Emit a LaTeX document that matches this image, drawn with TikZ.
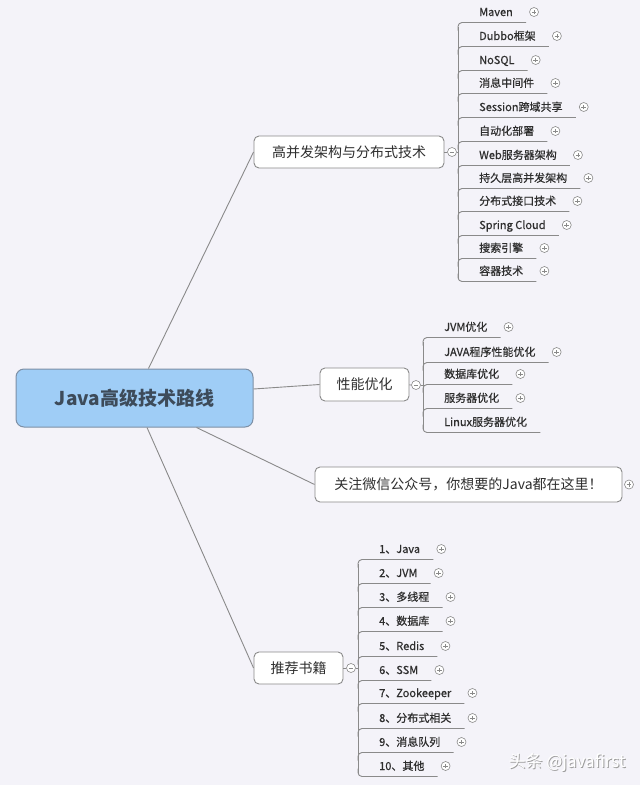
\documentclass[tikz,border=0pt]{standalone}
\usepackage{fontspec}
\newfontfamily\cjk{Noto Sans CJK SC}
\newfontfamily\cjkm{Noto Sans CJK SC}[FakeBold=0.6]
\usetikzlibrary{calc}
\definecolor{bg}{HTML}{F4F3F9}
\definecolor{ln}{HTML}{8A8A8A}
\definecolor{rootfill}{HTML}{9FCDF6}
\definecolor{rootdraw}{HTML}{7D8FA5}
\definecolor{roottext}{HTML}{3D4B5A}
\definecolor{txt}{HTML}{2E2E2E}
\newcommand\mmleaf[4]{%
  \node[item] (#1) at ({#2+21},{#3}) {#4};
  \coordinate (#1-u) at ([xshift=13pt,yshift=-10.5pt]#1.east);
  \node[plus] (#1-p) at ([xshift=21pt]#1.east) {};}
\newcommand\mmleafnp[4]{%
  \node[item] (#1) at ({#2+21},{#3}) {#4};
  \coordinate (#1-u) at ([xshift=13pt,yshift=-10.5pt]#1.east);}
\begin{document}
\begin{tikzpicture}[x=1pt,y=-1pt,
  conn/.style={draw=ln, line width=0.9pt},
  box/.style={draw=ln, line width=0.9pt, fill=white, rounded corners=5pt,
    font=\cjk\fontsize{14}{16}\selectfont, text=txt, inner sep=0},
  item/.style={anchor=west, inner sep=0, text height=9.5pt, text depth=1.5pt,
    font=\cjkm\fontsize{11}{13}\selectfont, text=txt},
  plus/.style={circle, draw=ln, fill=white, line width=0.6pt, minimum size=9pt, inner sep=0,
    path picture={
      \draw[ln,line width=0.6pt] ([xshift=-2.3pt]path picture bounding box.center) -- ([xshift=2.3pt]path picture bounding box.center);
      \draw[ln,line width=0.6pt] ([yshift=-2.3pt]path picture bounding box.center) -- ([yshift=2.3pt]path picture bounding box.center);}},
  minus/.style={circle, draw=ln, fill=white, line width=0.6pt, minimum size=9pt, inner sep=0,
    path picture={
      \draw[ln,line width=0.6pt] ([xshift=-2.3pt]path picture bounding box.center) -- ([xshift=2.3pt]path picture bounding box.center);}}
]
\useasboundingbox (0,0) rectangle (640,785);
\fill[bg] (0,0) rectangle (640,785);

% root
\node[draw=rootdraw, fill=rootfill, rounded corners=8pt, line width=1pt,
  minimum width=237pt, minimum height=58pt, inner sep=0,
  font=\cjk\bfseries\fontsize{19}{22}\selectfont, text=roottext] (root) at (134.5,398) {Java高级技术路线};

% branches
\node[box, minimum width=190pt, minimum height=32pt] (b1) at (349,152) {高并发架构与分布式技术};
\node[box, minimum width=89pt, minimum height=33pt] (b2) at (364.5,384.5) {性能优化};
\node[box, minimum width=307pt, minimum height=35pt] (b3) at (468.5,484.5) {关注微信公众号，你想要的Java都在这里！};
\node[box, minimum width=89pt, minimum height=32pt] (b4) at (298.5,668) {推荐书籍};

\node[minus] (b1c) at (452,152) {};
\node[minus] (b2c) at (416,385) {};
\node[minus] (b4c) at (351,668) {};
\node[plus] (b3p) at (629,484.5) {};

\coordinate (t1) at (458,152);
\coordinate (t2) at (423,385);
\coordinate (t4) at (358,668);

% root connectors
\draw[conn] ([xshift=14pt]root.north) -- (b1.west);
\draw[conn] ([yshift=9pt]root.east) -- (b2.west);
\draw[conn] ([xshift=62pt]root.south) -- (b3.west);
\draw[conn] ([xshift=12.5pt]root.south) -- (b4.west);

\draw[conn] (b1) -- (b1c); \draw[conn] (b1c) -- (t1);
\draw[conn] (b2) -- (b2c); \draw[conn] (b2c) -- (t2);
\draw[conn] (b4) -- (b4c); \draw[conn] (b4c) -- (t4);

% group 1
\mmleaf{a1}{458}{12}{Maven}
\mmleaf{a2}{458}{36}{Dubbo框架}
\mmleaf{a3}{458}{60}{NoSQL}
\mmleaf{a4}{458}{83}{消息中间件}
\mmleaf{a5}{458}{107}{Session跨域共享}
\mmleaf{a6}{458}{131}{自动化部署}
\mmleaf{a7}{458}{155}{Web服务器架构}
\mmleaf{a8}{458}{178}{持久层高并发架构}
\mmleaf{a9}{458}{201}{分布式接口技术}
\mmleaf{a10}{458}{225}{Spring Cloud}
\mmleaf{a11}{458}{248}{搜索引擎}
\mmleaf{a12}{458}{271}{容器技术}
\foreach \i in {1,...,11} \draw[conn, rounded corners=4pt] ($(t1 |- a\i-u)+(0,8)$) |- (a\i-u);
\draw[conn, rounded corners=4pt] ($(t1 |- a12-u)+(0,-8)$) |- (a12-u);
\draw[conn] ($(t1 |- a1-u)+(0,4)$) -- ($(t1 |- a12-u)+(0,-4)$);

% group 2
\mmleaf{p1}{423}{327}{JVM优化}
\mmleaf{p2}{423}{352}{JAVA程序性能优化}
\mmleaf{p3}{423}{374}{数据库优化}
\mmleaf{p4}{423}{398}{服务器优化}
\mmleafnp{p5}{423}{422}{Linux服务器优化}
\foreach \i in {1,...,4} \draw[conn, rounded corners=4pt] ($(t2 |- p\i-u)+(0,8)$) |- (p\i-u);
\draw[conn, rounded corners=4pt] ($(t2 |- p5-u)+(0,-8)$) |- (p5-u);
\draw[conn] ($(t2 |- p1-u)+(0,4)$) -- ($(t2 |- p5-u)+(0,-4)$);

% group 4
\mmleaf{r1}{358}{549}{1、Java}
\mmleaf{r2}{358}{573}{2、JVM}
\mmleaf{r3}{358}{597}{3、多线程}
\mmleaf{r4}{358}{621}{4、数据库}
\mmleaf{r5}{358}{646}{5、Redis}
\mmleaf{r6}{358}{670}{6、SSM}
\mmleaf{r7}{358}{693}{7、Zookeeper}
\mmleaf{r8}{358}{718}{8、分布式相关}
\mmleaf{r9}{358}{742}{9、消息队列}
\mmleaf{r10}{358}{766}{10、其他}
\foreach \i in {1,...,9} \draw[conn, rounded corners=4pt] ($(t4 |- r\i-u)+(0,8)$) |- (r\i-u);
\draw[conn, rounded corners=4pt] ($(t4 |- r10-u)+(0,-8)$) |- (r10-u);
\draw[conn] ($(t4 |- r1-u)+(0,4)$) -- ($(t4 |- r10-u)+(0,-4)$);

% watermark
\node[font=\cjk\fontsize{17}{19}\selectfont, text=gray!75] (wms) at (568,763) {头条 @javafirst};
\node[font=\cjk\fontsize{17}{19}\selectfont, text=white] (wm) at (567,762) {头条 @javafirst};
\end{tikzpicture}
\end{document}
